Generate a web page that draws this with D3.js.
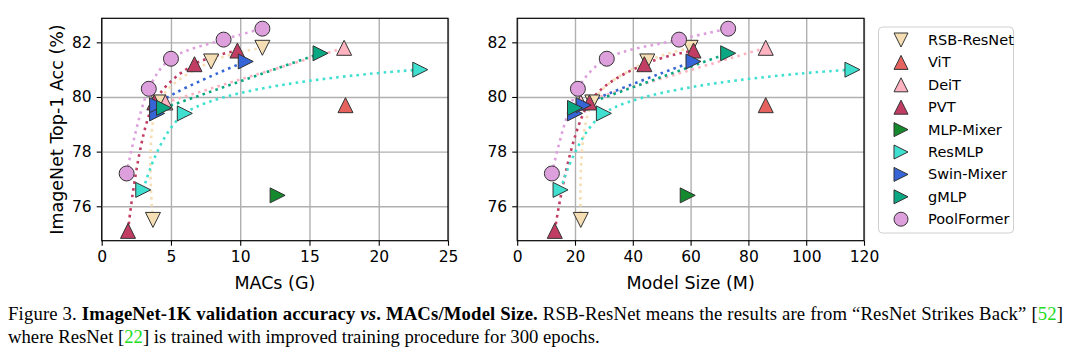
<!DOCTYPE html>
<html>
<head>
<meta charset="utf-8">
<script src="https://cdn.jsdelivr.net/npm/d3@7"></script>
<style>
  body { margin: 0; background: #fff; }
  text { font-family: "DejaVu Sans", sans-serif; fill: #000; }
  .caption text, .caption { font-family: "Liberation Serif", "Times New Roman", serif; }
</style>
</head>
<body>
<div id="chart"></div>
<script>
// model families (legend order)
var models = ["RSB-ResNet", "ViT", "DeiT", "PVT", "MLP-Mixer", "ResMLP", "Swin-Mixer", "gMLP", "PoolFormer"];

// MACs (G) per family
var macs = [
    [3.7, 4.1, 7.9, 11.6],
    [17.6],
    [4.6, 17.5],
    [1.9, 3.8, 6.7, 9.8],
    [12.7],
    [3.0, 6.0, 23.0],
    [4.0, 4.0, 10.4],
    [4.5, 15.8],
    [1.8, 3.4, 5.0, 8.8, 11.6]
];

// model size (M params) per family
var params = [
    [22, 26, 45, 60],
    [86],
    [22, 86],
    [13, 25, 44, 61],
    [59],
    [15, 30, 116],
    [20, 23, 61],
    [20, 73],
    [12, 21, 31, 56, 73]
];

// ImageNet top-1 accuracy per family
var top1 = [
    [75.5, 79.8, 81.3, 81.8],
    [79.7],
    [79.8, 81.8],
    [75.1, 79.8, 81.2, 81.7],
    [76.4],
    [76.6, 79.4, 81.0],
    [79.4, 79.7, 81.3],
    [79.6, 81.6],
    [77.2, 80.3, 81.4, 82.1, 82.5]
];

var macsTicks = [0, 5, 10, 15, 20, 25];
var sizeTicks = [0, 20, 40, 60, 80, 100, 120];
var accTicks = [76, 78, 80, 82];

// styles
var colors = ["#f5deb3", "#e5625e", "#ffb3c0", "#c23d63", "#14892e", "#40e0d0", "#3565d6", "#0aa882", "#dda0dd"];
var shapes = ["v", "^", "^", "^", ">", ">", ">", ">", "o"];
var markerSize = 15;

var svgWidth = 1080;
var svgHeight = 352;

var svg = d3.select("#chart").append("svg")
    .attr("width", svgWidth)
    .attr("height", svgHeight);

svg.append("rect")
    .attr("width", svgWidth)
    .attr("height", svgHeight)
    .attr("fill", "#fff");

var plotTop = 18.3;
var plotBottom = 240.7;

//marker path, centred on 0,0
function markerPath(shape, s) {
    var h = s / 2;
    if (shape === "v") return `M${-h},${-h}L${h},${-h}L0,${h}Z`;
    if (shape === "^") return `M0,${-h}L${-h},${h}L${h},${h}Z`;
    if (shape === ">") return `M${h},0L${-h},${-h}L${-h},${h}Z`;
    return d3.symbol().type(d3.symbolCircle).size(Math.PI * h * h)();
}

function drawPanel(left, right, xMax, xTicks, xData, xLabel, showYLabel) {
    var xScale = d3.scaleLinear().domain([0, xMax]).range([left, right]);
    var yScale = d3.scaleLinear().domain([74.74, 82.88]).range([plotBottom, plotTop]);

    var g = svg.append("g");

    //grid
    g.append("g")
        .attr("transform", `translate(0, ${plotBottom})`)
        .call(d3.axisBottom(xScale).tickValues(xTicks).tickSize(-(plotBottom - plotTop)).tickFormat(""))
        .call(a => a.select(".domain").remove())
        .call(a => a.selectAll("line").attr("stroke", "#b0b0b0").attr("stroke-width", 1.4));

    g.append("g")
        .attr("transform", `translate(${left}, 0)`)
        .call(d3.axisLeft(yScale).tickValues(accTicks).tickSize(-(right - left)).tickFormat(""))
        .call(a => a.select(".domain").remove())
        .call(a => a.selectAll("line").attr("stroke", "#b0b0b0").attr("stroke-width", 1.4));

    //dotted lines
    var line = d3.line()
        .x(d => xScale(d[0]))
        .y(d => yScale(d[1]))
        .curve(d3.curveCatmullRom.alpha(0.5));

    var clipId = "clip" + left;
    svg.append("clipPath").attr("id", clipId)
        .append("rect")
        .attr("x", left).attr("y", plotTop)
        .attr("width", right - left).attr("height", plotBottom - plotTop);

    var lineGroup = g.append("g").attr("clip-path", `url(#${clipId})`);

    models.forEach(function (m, i) {
        if (xData[i].length < 2) return;
        var pts = xData[i].map((x, j) => [x, top1[i][j]]);
        lineGroup.append("path")
            .attr("d", line(pts))
            .attr("fill", "none")
            .attr("stroke", colors[i])
            .attr("stroke-width", 2.6)
            .attr("stroke-dasharray", "2.6,4.2");
    });

    //markers
    models.forEach(function (m, i) {
        var pts = xData[i].map((x, j) => [x, top1[i][j]]);
        g.selectAll(null)
            .data(pts)
            .enter()
            .append("path")
            .attr("transform", d => `translate(${xScale(d[0])}, ${yScale(d[1])})`)
            .attr("d", markerPath(shapes[i], markerSize))
            .attr("fill", colors[i])
            .attr("stroke", "#333")
            .attr("stroke-width", 1);
    });

    //axes
    var xAxis = g.append("g")
        .attr("transform", `translate(0, ${plotBottom})`)
        .call(d3.axisBottom(xScale).tickValues(xTicks).tickSize(5).tickPadding(5).tickFormat(d3.format("d")));

    var yAxis = g.append("g")
        .attr("transform", `translate(${left}, 0)`)
        .call(d3.axisLeft(yScale).tickValues(accTicks).tickSize(5).tickPadding(5).tickFormat(d3.format("d")));

    [xAxis, yAxis].forEach(function (a) {
        a.selectAll("text").attr("font-size", "15.5px").attr("font-family", "DejaVu Sans").attr("fill", "#000");
        a.selectAll("line").attr("stroke", "#000").attr("stroke-width", 1.1);
        a.select(".domain").remove();
    });

    //frame
    g.append("rect")
        .attr("x", left).attr("y", plotTop)
        .attr("width", right - left).attr("height", plotBottom - plotTop)
        .attr("fill", "none")
        .attr("stroke", "#000")
        .attr("stroke-width", 1.2);

    g.append("text")
        .attr("x", (left + right) / 2)
        .attr("y", 289)
        .attr("text-anchor", "middle")
        .attr("font-size", "17.5px")
        .text(xLabel);

    if (showYLabel) {
        g.append("text")
            .attr("transform", `translate(63, ${(plotTop + plotBottom) / 2}) rotate(-90)`)
            .attr("text-anchor", "middle")
            .attr("font-size", "17.5px")
            .text("ImageNet Top-1 Acc (%)");
    }
}

drawPanel(101.7, 448, 25, macsTicks, macs, "MACs (G)", true);
drawPanel(517.2, 864, 120, sizeTicks, params, "Model Size (M)", false);

//legend
var legend = svg.append("g");

legend.append("rect")
    .attr("x", 878.5).attr("y", 27)
    .attr("width", 135).attr("height", 206)
    .attr("rx", 4)
    .attr("fill", "#fff")
    .attr("stroke", "#d0d0d0")
    .attr("stroke-width", 1);

models.forEach(function (m, i) {
    var y = 40 + i * 22.4;
    legend.append("path")
        .attr("transform", `translate(901, ${y})`)
        .attr("d", markerPath(shapes[i], 14))
        .attr("fill", colors[i])
        .attr("stroke", "#333")
        .attr("stroke-width", 1);
    legend.append("text")
        .attr("x", 928)
        .attr("y", y + 5)
        .attr("font-size", "14.5px")
        .text(m);
});

//caption
var caption = svg.append("g").attr("class", "caption");
var green = "#22dd22";

var line1 = caption.append("text")
    .attr("x", 8)
    .attr("y", 320)
    .attr("font-size", "18.7px")
    .attr("textLength", 1055)
    .attr("lengthAdjust", "spacing");
line1.append("tspan").text("Figure 3. ");
line1.append("tspan").attr("font-weight", "bold").text("ImageNet-1K validation accuracy ");
line1.append("tspan").attr("font-weight", "bold").attr("font-style", "italic").text("vs");
line1.append("tspan").attr("font-weight", "bold").text(". MACs/Model Size.");
line1.append("tspan").text(" RSB-ResNet means the results are from \u201cResNet Strikes Back\u201d [");
line1.append("tspan").attr("fill", green).text("52");
line1.append("tspan").text("]");

var line2 = caption.append("text")
    .attr("x", 8)
    .attr("y", 343)
    .attr("font-size", "18.7px");
line2.append("tspan").text("where ResNet [");
line2.append("tspan").attr("fill", green).text("22");
line2.append("tspan").text("] is trained with improved training procedure for 300 epochs.");
</script>
</body>
</html>
